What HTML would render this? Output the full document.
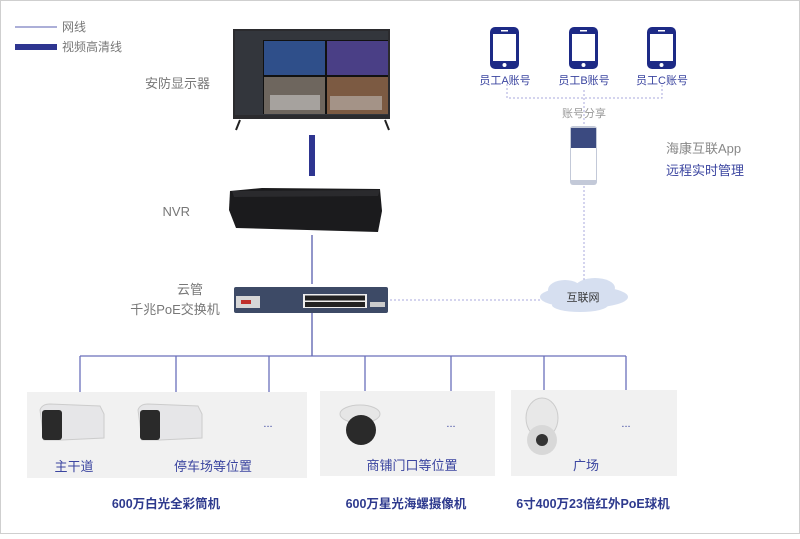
<!DOCTYPE html>
<html><head><meta charset="utf-8"><style>
html,body{margin:0;padding:0;background:#fff}
body{width:800px;height:534px;overflow:hidden;font-family:"Liberation Sans","Noto Sans CJK SC",sans-serif}
</style></head><body>
<svg width="800" height="534" viewBox="0 0 800 534" xmlns="http://www.w3.org/2000/svg" font-family="Liberation Sans, Noto Sans CJK SC, sans-serif">
<rect x="0.5" y="0.5" width="799" height="533" fill="#fff" stroke="#cfcfcf"/>
<!-- legend -->
<line x1="15" y1="27" x2="57" y2="27" stroke="#5a5fb0" stroke-width="1"/>
<rect x="15" y="44" width="42" height="6" fill="#2e3590"/>
<text x="62" y="31" font-size="12" fill="#777">网线</text>
<text x="62" y="51" font-size="12" fill="#777">视频高清线</text>
<!-- monitor -->
<rect x="233" y="29" width="157" height="90" fill="#2b2b2e"/>
<rect x="235" y="31" width="153" height="84" fill="#33363c"/>
<rect x="263" y="40" width="125" height="74" fill="#111"/>
<rect x="264" y="41" width="61" height="34" fill="#2f4f8a"/>
<rect x="327" y="41" width="61" height="34" fill="#4a3f86"/>
<rect x="264" y="77" width="61" height="37" fill="#6e665e"/>
<rect x="327" y="77" width="61" height="37" fill="#7c5a42"/>
<rect x="270" y="95" width="50" height="15" fill="#ddd" opacity=".5"/>
<rect x="330" y="96" width="52" height="14" fill="#ccc" opacity=".5"/>
<path d="M240 120 L236 130 M385 120 L389 130" stroke="#222" stroke-width="2"/>
<text x="210" y="88" font-size="13" fill="#777" text-anchor="end">安防显示器</text>
<!-- HD line -->
<rect x="309" y="135" width="6" height="41" fill="#2e3590"/>
<!-- NVR -->
<path d="M230 191 L262 188 L380 189 L382 211 L378 232 L236 228 L229 210 Z" fill="#1b1b1d"/>
<path d="M232 191 L380 190 L378 196 L234 197 Z" fill="#2a2a2d"/>
<text x="190" y="216" font-size="13" fill="#777" text-anchor="end">NVR</text>
<line x1="312" y1="235" x2="312" y2="284" stroke="#4a4fa6" stroke-width="1.2"/>
<!-- switch -->
<rect x="234" y="287" width="154" height="26" rx="2" fill="#3d4a66"/>
<rect x="236" y="296" width="24" height="12" fill="#d7d7d7"/>
<rect x="241" y="300" width="10" height="4" fill="#c0302c"/>
<rect x="303" y="294" width="64" height="14" fill="#eee"/>
<g fill="#222"><rect x="305" y="295.5" width="60" height="5"/><rect x="305" y="302" width="60" height="5"/></g>
<rect x="370" y="302" width="15" height="5" fill="#ccc"/>
<text x="190" y="294" font-size="13" fill="#777" text-anchor="middle">云管</text>
<text x="175" y="314" font-size="13" fill="#777" text-anchor="middle">千兆PoE交换机</text>
<line x1="312" y1="313" x2="312" y2="356" stroke="#4a4fa6" stroke-width="1.2"/>
<!-- dotted to cloud -->
<line x1="390" y1="300" x2="545" y2="300" stroke="#a9aadd" stroke-width="1" stroke-dasharray="2,2"/>
<g fill="#d6dff0">
<ellipse cx="584" cy="297" rx="44" ry="11"/><ellipse cx="565" cy="290" rx="17" ry="10"/><ellipse cx="595" cy="288" rx="20" ry="10"/><ellipse cx="580" cy="305" rx="28" ry="7"/>
</g>
<text x="583" y="301" font-size="11" fill="#333" text-anchor="middle">互联网</text>
<line x1="584" y1="186" x2="584" y2="280" stroke="#a9aadd" stroke-dasharray="2,2"/>
<!-- app phone -->
<rect x="570" y="126" width="27" height="59" rx="3" fill="#c3c9d8"/>
<rect x="571" y="128" width="25" height="52" fill="#fff"/>
<rect x="571" y="128" width="25" height="20" fill="#3b4a80"/>
<line x1="584" y1="90" x2="584" y2="126" stroke="#a9aadd" stroke-dasharray="2,2"/>
<text x="584" y="117" font-size="11" fill="#999" text-anchor="middle">账号分享</text>
<path d="M507 84 V98 H662 V84" fill="none" stroke="#a9aadd" stroke-dasharray="2,2"/>
<!-- phones -->
<g fill="#1d2a86">
<rect x="490" y="27" width="29" height="42" rx="5"/><rect x="569" y="27" width="29" height="42" rx="5"/><rect x="647" y="27" width="29" height="42" rx="5"/>
</g>
<g fill="#fff">
<rect x="493" y="34" width="23" height="27"/><rect x="572" y="34" width="23" height="27"/><rect x="650" y="34" width="23" height="27"/>
<circle cx="504.5" cy="65" r="2"/><circle cx="583.5" cy="65" r="2"/><circle cx="661.5" cy="65" r="2"/>
<rect x="501" y="30" width="7" height="1.5"/><rect x="580" y="30" width="7" height="1.5"/><rect x="658" y="30" width="7" height="1.5"/>
</g>
<g font-size="11" fill="#3b45a0" text-anchor="middle">
<text x="505" y="84">员工A账号</text><text x="584" y="84">员工B账号</text><text x="662" y="84">员工C账号</text>
</g>
<text x="666" y="153" font-size="13" fill="#888">海康互联App</text>
<text x="666" y="175" font-size="13" fill="#3b45a0">远程实时管理</text>
<!-- bus -->
<g stroke="#6a6fbb" stroke-width="1.3" fill="none">
<line x1="80" y1="356" x2="626" y2="356"/>
<line x1="80" y1="356" x2="80" y2="392"/><line x1="176" y1="356" x2="176" y2="392"/><line x1="269" y1="356" x2="269" y2="392"/>
<line x1="365" y1="356" x2="365" y2="391"/><line x1="451" y1="356" x2="451" y2="391"/>
<line x1="544" y1="356" x2="544" y2="390"/><line x1="626" y1="356" x2="626" y2="390"/>
</g>
<rect x="27" y="392" width="280" height="86" fill="#f1f1f1"/>
<rect x="320" y="391" width="175" height="85" fill="#f1f1f1"/>
<rect x="511" y="390" width="166" height="86" fill="#f1f1f1"/>
<!-- bullet cams -->
<g>
<path d="M40 410 Q42 404 50 404 L100 406 L104 414 L104 438 L62 440 L44 440 Z" fill="#e6e6e8" stroke="#ccc"/>
<rect x="42" y="410" width="20" height="30" rx="3" fill="#2a2a2a"/>
<path d="M138 410 Q140 404 148 404 L198 406 L202 414 L202 438 L160 440 L142 440 Z" fill="#e6e6e8" stroke="#ccc"/>
<rect x="140" y="410" width="20" height="30" rx="3" fill="#2a2a2a"/>
</g>
<text x="268" y="427" font-size="11" fill="#3b45a0" text-anchor="middle">...</text>
<text x="451" y="427" font-size="11" fill="#3b45a0" text-anchor="middle">...</text>
<text x="626" y="427" font-size="11" fill="#3b45a0" text-anchor="middle">...</text>
<!-- dome -->
<ellipse cx="360" cy="414" rx="20" ry="9" fill="#e6e6e6" stroke="#ccc"/>
<ellipse cx="361" cy="430" rx="15" ry="15" fill="#2a2a2a"/>
<!-- PTZ -->
<ellipse cx="542" cy="418" rx="16" ry="20" fill="#e8e8e8" stroke="#ccc"/>
<circle cx="542" cy="440" r="15" fill="#d8d8d8"/>
<circle cx="542" cy="440" r="6" fill="#333"/>
<g font-size="13" fill="#3b45a0" text-anchor="middle">
<text x="74" y="471">主干道</text><text x="213" y="471">停车场等位置</text>
<text x="412" y="470">商铺门口等位置</text><text x="586" y="470">广场</text>
</g>
<g font-size="12.5" font-weight="bold" fill="#2e3a8e" text-anchor="middle">
<text x="166" y="508">600万白光全彩筒机</text>
<text x="406" y="508">600万星光海螺摄像机</text>
<text x="593" y="508">6寸400万23倍红外PoE球机</text>
</g>
</svg>
</body></html>
